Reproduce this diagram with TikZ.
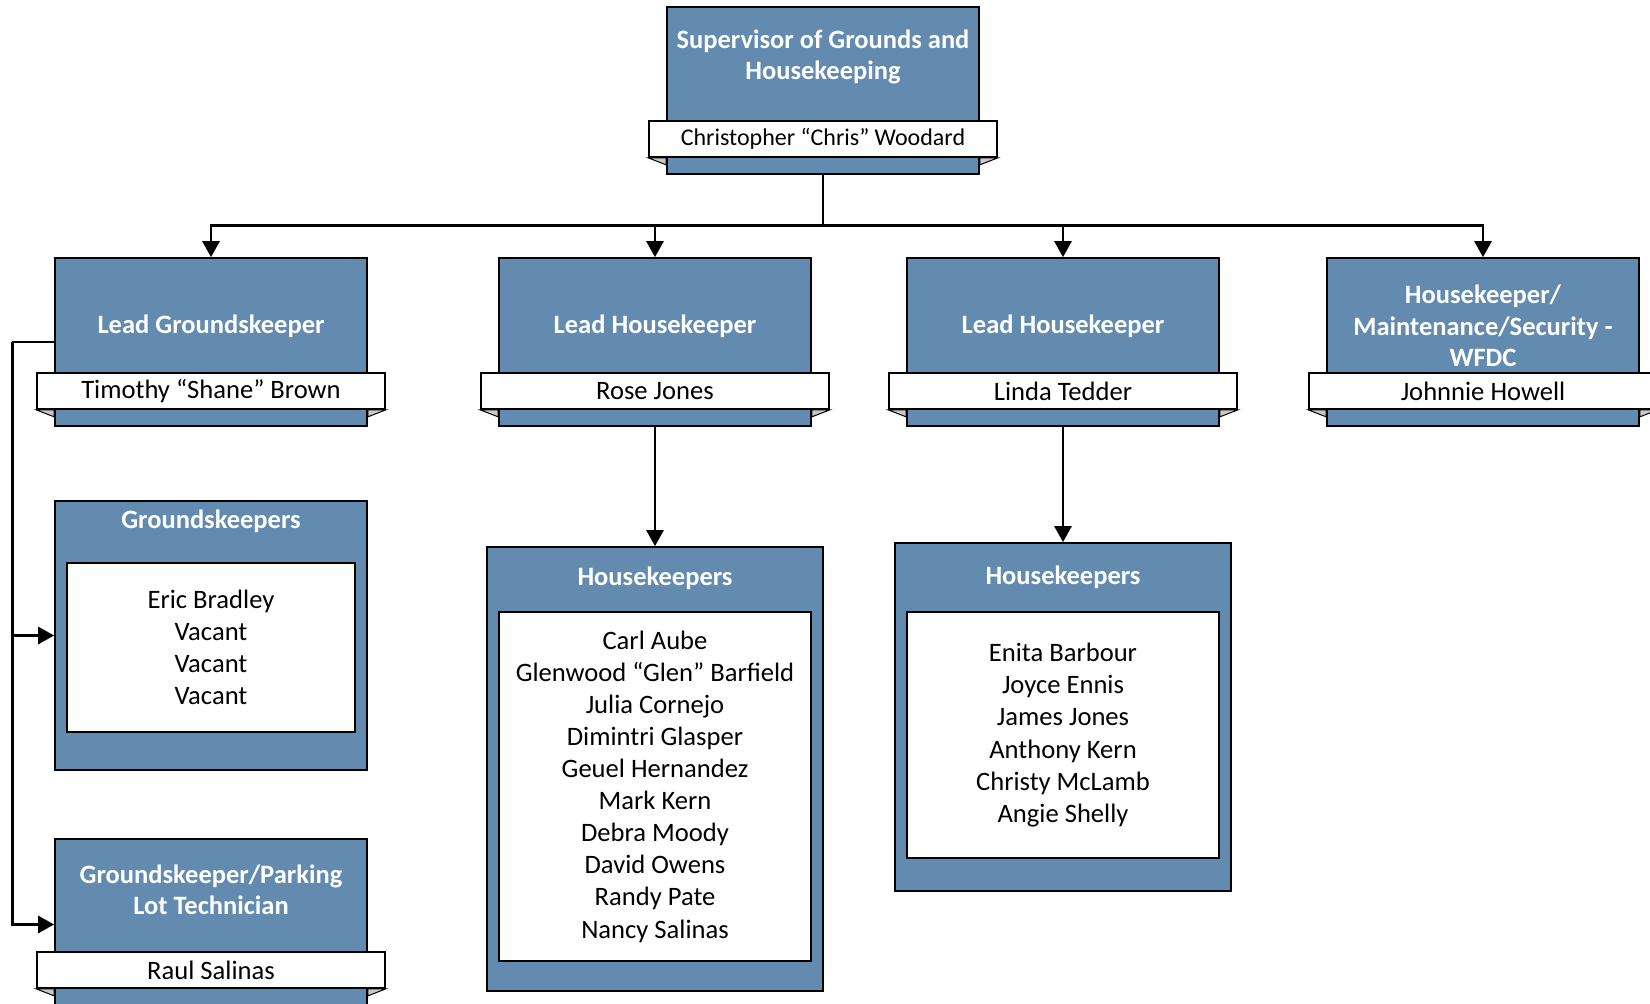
\documentclass[tikz,border=0pt]{standalone}
\usepackage{fontspec}
\setmainfont{Carlito}
\usetikzlibrary{arrows.meta}
\definecolor{boxblue}{RGB}{99,139,175}
\definecolor{foldgray}{RGB}{200,200,200}

\begin{document}
\begin{tikzpicture}[x=1pt,y=-1pt,
	rolebox/.style={draw=black,line width=1.7pt,fill=boxblue,minimum width=312pt,inner sep=0pt},
	ribbon/.style={draw=black,line width=1.7pt,fill=white,minimum width=348pt,minimum height=36pt,inner sep=0pt,font=\fontsize{26.6}{29}\selectfont},
	roletitle/.style={text=white,align=center,font=\bfseries\fontsize{26.5}{31.5}\selectfont},
	namelist/.style={draw=black,line width=1.7pt,fill=white,inner sep=0pt,align=center,font=\fontsize{26.6}{32.1}\selectfont},
	link/.style={line width=2.8pt},
	arrowed/.style={-{Triangle[length=16pt,width=17pt]}}]
	\useasboundingbox (0,0) rectangle (1650,1004);
	\clip (0,0) rectangle (1650,1004);

	% supervisor
	\node[rolebox,minimum height=167pt] (sup) at (823,90.5) {};
	\node[roletitle] (supt) at (823,57) {Supervisor of Grounds and\\Housekeeping};
	\node[ribbon,font=\fontsize{24}{29}\selectfont] (supn) at (823,139) {Christopher “Chris” Woodard};

	% leads
	\node[rolebox,minimum height=168pt] (lg) at (211,342) {};
	\node[roletitle] (lgt) at (211,326) {Lead Groundskeeper};
	\node[ribbon] (lgn) at (211,391) {Timothy “Shane” Brown};

	\node[rolebox,minimum height=168pt] (lh1) at (655,342) {};
	\node[roletitle] (lh1t) at (655,326) {Lead Housekeeper};
	\node[ribbon] (lh1n) at (655,391) {Rose Jones};

	\node[rolebox,minimum height=168pt] (lh2) at (1063,342) {};
	\node[roletitle] (lh2t) at (1063,326) {Lead Housekeeper};
	\node[ribbon] (lh2n) at (1063,391) {Linda Tedder};

	\node[rolebox,minimum height=168pt] (hm) at (1483,342) {};
	\node[roletitle] (hmt) at (1483,326) {Housekeeper/\\Maintenance/Security -\\WFDC};
	\node[ribbon] (hmn) at (1483,391) {Johnnie Howell};

	% groundskeepers
	\node[rolebox,minimum height=269pt] (gk) at (211,635.5) {};
	\node[roletitle] (gkt) at (211,521) {Groundskeepers};
	\node[namelist,minimum width=288pt,minimum height=169pt] (gkl) at (211,647.5) {Eric Bradley\\Vacant\\Vacant\\Vacant};

	\node[rolebox,minimum height=171pt] (pk) at (211,924.5) {};
	\node[roletitle] (pkt) at (211,890) {Groundskeeper/Parking\\Lot Technician};
	\node[ribbon] (pkn) at (211,970) {Raul Salinas};

	% housekeepers
	\node[rolebox,minimum width=336pt,minimum height=444pt] (hk1) at (655,769) {};
	\node[roletitle] (hk1t) at (655,578) {Housekeepers};
	\node[namelist,minimum width=312pt,minimum height=349pt] (hk1l) at (655,786.5) {Carl Aube\\Glenwood “Glen” Barfield\\Julia Cornejo\\Dimintri Glasper\\Geuel Hernandez\\Mark Kern\\Debra Moody\\David Owens\\Randy Pate\\Nancy Salinas};

	\node[rolebox,minimum width=336pt,minimum height=348pt] (hk2) at (1063,717) {};
	\node[roletitle] (hk2t) at (1063,577) {Housekeepers};
	\node[namelist,minimum width=312pt,minimum height=246pt] (hk2l) at (1063,735) {Enita Barbour\\Joyce Ennis\\James Jones\\Anthony Kern\\Christy McLamb\\Angie Shelly};

	% ribbon folds
	\foreach \b/\r in {sup/supn,lg/lgn,lh1/lh1n,lh2/lh2n,hm/hmn,pk/pkn}{
		\filldraw[fill=foldgray,line width=1pt] (\r.south west) -- (\r.south west -| \b.west) -- ++(0,7) -- cycle;
		\filldraw[fill=foldgray,line width=1pt] (\r.south east) -- (\r.south east -| \b.east) -- ++(0,7) -- cycle;
	}

	% connectors
	\draw[link] (sup.south) -- ++(0,51) coordinate (bus);
	\foreach \n in {lg,lh1,lh2,hm}
		\draw[link,arrowed] (bus) -| (\n.north);
	\draw[link,arrowed] (lh1.south) -- (hk1.north);
	\draw[link,arrowed] (lh2.south) -- (hk2.north);
	\draw[link] (lg.west) -- ++(-42,0) coordinate (spine);
	\draw[link,arrowed] (spine) |- (gk.west);
	\draw[link,arrowed] (spine) |- (pk.west);
\end{tikzpicture}
\end{document}
